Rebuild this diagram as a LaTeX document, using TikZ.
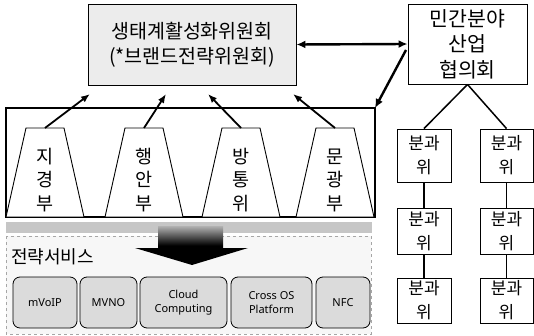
\documentclass[tikz,border=0pt]{standalone}
\usepackage{fontspec}
\setmainfont{Noto Sans}
\newfontfamily\kr{Noto Sans CJK KR}
\usetikzlibrary{arrows.meta}
\begin{document}
\begin{tikzpicture}[x=1pt,y=-1pt,
  krbox/.style={draw, line width=0.9pt, inner sep=0pt, align=center, font=\kr},
  bunbox/.style={krbox, fill=white, minimum width=54pt, font=\kr\fontsize{17}{24}\selectfont},
  svc/.style={draw, line width=0.8pt, rounded corners=7pt, fill=gray!28, minimum height=51pt,
     inner sep=0pt, align=center, font=\fontsize{11}{14}\selectfont},
  trapbox/.style={draw, line width=0.9pt, fill=white},
  vtext/.style={align=center, inner sep=0pt, font=\kr\fontsize{18.5}{23.5}\selectfont},
  uparrow/.style={line width=1.8pt, -{Latex[length=9pt,width=7pt]}},
  bigarrow/.style={line width=2.4pt, {Latex[length=9pt,width=8pt]}-{Latex[length=9pt,width=8pt]}},
  link/.style={line width=1.5pt}
]
\useasboundingbox (0,0) rectangle (534,336);
\fill[white] (0,0) rectangle (534,336);

% top committee box
\node[krbox, fill=gray!15, minimum width=208pt, minimum height=81pt,
      font=\kr\fontsize{19.5}{25}\selectfont] (top) at (192,44.5)
      {생태계활성화위원회\\(*브랜드전략위원회)};

% private sector box
\node[krbox, fill=white, minimum width=119pt, minimum height=80pt,
      font=\kr\fontsize{20.5}{25.5}\selectfont] (rb) at (467.5,44)
      {민간분야\\산업\\협의회};

% ministries frame
\draw[line width=1.2pt] (6,108) rectangle (375,217);
\coordinate (fc) at (375,108);

\foreach \n/\c/\a/\b/\d/\tx in {1/45/지/경/부/90, 2/144/행/안/부/166, 3/241/방/통/위/208, 4/335/문/광/부/293} {
  \draw[trapbox] (\c-39,217) -- (\c-19,128) -- (\c+19,128) -- (\c+39,217) -- cycle;
  \coordinate (t\n) at (\c,128);
  \node[vtext] (m\n) at (\c,180) {\a\\\b\\\d};
  \coordinate (g\n) at (\tx,94);
  \draw[uparrow] (t\n) -- (g\n);
}

% arrows between committees
\draw[bigarrow] (top.east) -- (rb.west);
\coordinate (d1) at (406,50);
\draw[line width=2.4pt, -{Latex[length=9pt,width=8pt]}] (d1) -- (fc);

% hatched band
\fill[gray!45] (6,222) rectangle (372,233);

% strategic services box
\draw[gray!70, line width=0.6pt, dashed, fill=gray!6] (6,236) rectangle (371,334);
\node[font=\kr\fontsize{18}{20}\selectfont, inner sep=0pt, anchor=west] (svct) at (11,257) {전략서비스};

% big down arrow
\shade[top color=gray!60, bottom color=black, middle color=black]
  (158,226) -- (223,226) -- (223,248) -- (248,248) -- (192,265) -- (135,248) -- (158,248) -- cycle;

\node[svc, minimum width=64pt] (s1) at (45,302.5) {mVoIP};
\node[svc, minimum width=57pt] (s2) at (108.5,302.5) {MVNO};
\node[svc, minimum width=87pt] (s3) at (183.5,302.5) {Cloud\\Computing};
\node[svc, minimum width=81pt] (s4) at (271.5,302.5) {Cross OS\\Platform};
\node[svc, minimum width=54pt] (s5) at (343,302.5) {NFC};

% subcommittees
\node[bunbox, minimum height=53pt] (b11) at (424,155.5) {분과\\위};
\node[bunbox, minimum height=53pt, minimum width=53pt] (b12) at (506.5,155.5) {분과\\위};
\node[bunbox, minimum height=46pt] (b21) at (424,231) {분과\\위};
\node[bunbox, minimum height=46pt, minimum width=53pt] (b22) at (506.5,231) {분과\\위};
\node[bunbox, minimum height=45pt] (b31) at (424,300.5) {분과\\위};
\node[bunbox, minimum height=45pt, minimum width=53pt] (b32) at (506.5,300.5) {분과\\위};

\draw[link] (rb.south) -- (b11.north);
\draw[link] (rb.south) -- (b12.north);
\draw[link] (b11) -- (b21);
\draw[link] (b21) -- (b31);
\draw[link] (b12) -- (b22);
\draw[link] (b22) -- (b32);
\end{tikzpicture}
\end{document}
